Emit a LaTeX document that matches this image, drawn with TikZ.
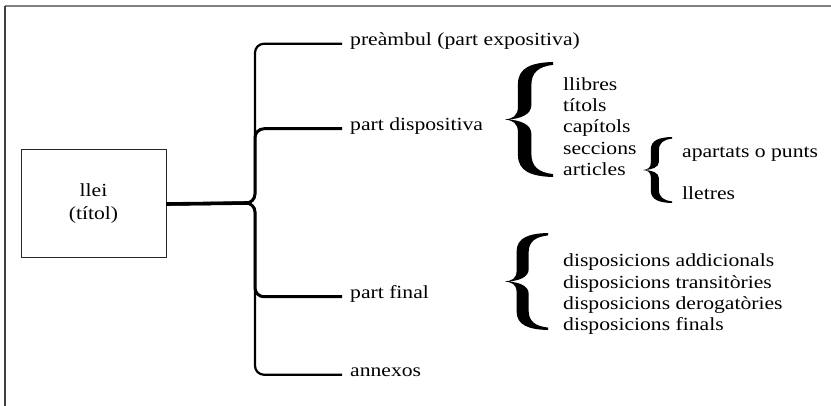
\documentclass[tikz,border=0pt]{standalone}
\usepackage{fontspec}
\setmainfont{Liberation Serif}[FakeStretch=1.17]
\tikzset{
  % calligraphic curly brace, tip at the origin, arms reaching x=1, y=+-1
  curly/.pic={
    \fill[black]
      (1,1) .. controls (0.55,0.99) and (0.27,0.9) .. (0.27,0.62)
      -- (0.27,0.22)
      .. controls (0.27,0.06) and (0.15,0.01) .. (0,0)
      .. controls (0.15,-0.01) and (0.27,-0.06) .. (0.27,-0.22)
      -- (0.27,-0.62)
      .. controls (0.27,-0.9) and (0.55,-0.99) .. (1,-1)
      -- (1,-0.95)
      .. controls (0.7,-0.92) and (0.55,-0.82) .. (0.55,-0.6)
      -- (0.55,-0.25)
      .. controls (0.55,-0.08) and (0.3,-0.01) .. (0.06,0)
      .. controls (0.3,0.01) and (0.55,0.08) .. (0.55,0.25)
      -- (0.55,0.6)
      .. controls (0.55,0.82) and (0.7,0.92) .. (1,0.95)
      -- cycle;
  }
}
\begin{document}
\begin{tikzpicture}[x=1pt,y=-1pt,
  every node/.style={font=\fontsize{18.5}{23}\selectfont, text=black},
  lbl/.style={anchor=base west, inner sep=0pt, text height=0.7em, text depth=0.25em},
  item/.style={anchor=base west, inner sep=0pt},
  branch/.style={draw=black, line width=2.2pt, rounded corners=9pt, shorten >=8pt},
  innerbranch/.style={branch, line width=3pt},
  trunk/.style={draw=black, line width=3.6pt},
  boxstyle/.style={draw=black!85, line width=1pt, minimum width=145pt,
    minimum height=108pt, align=center, inner sep=0pt}
]
\useasboundingbox (0,0) rectangle (831,406);

% page frame: top rule and left rule
\draw[gray, line width=1.4pt] (5,6) -- (831,6);
\draw[black!75, line width=1.4pt] (5,6) -- (5,406);

% root box
\node[boxstyle] (box) at (93.5,204) {llei\\(títol)};

% main parts
\node[lbl] (pre) at (350,46) {preàmbul (part expositiva)};
\node[lbl] (disp) at (350,131) {part dispositiva};
\node[lbl] (fin) at (350,299) {part final};
\node[lbl] (annex) at (350,377) {annexos};

% junction of the tree
\coordinate (j) at (255,203);
\coordinate (t) at (248,203);

\draw[branch] (box.east) -- (j) |- (pre.west);
\draw[branch] (box.east) -- (j) |- (annex.west);
\draw[innerbranch] (box.east) -- (j) |- (disp.west);
\draw[innerbranch] (box.east) -- (j) |- (fin.west);
\draw[trunk] (box.east) -- (t);

% subdivisions of the dispositive part
\pic[xscale=48, yscale=57.5] at (505,119.5) {curly};
\node[item] (l1) at (563,91) {llibres};
\node[item] (l2) at (563,112) {títols};
\node[item] (l3) at (563,133) {capítols};
\node[item] (l4) at (563,155) {seccions};
\node[item] (l5) at (563,176) {articles};

% subdivisions of the articles
\pic[xscale=29, yscale=33] at (643,170) {curly};
\node[item] (a1) at (682,158) {apartats o punts};
\node[item] (a2) at (682,200) {lletres};

% final provisions
\pic[xscale=43, yscale=48.5] at (505,281.5) {curly};
\node[item] (f1) at (563,267) {disposicions addicionals};
\node[item] (f2) at (563,289) {disposicions transitòries};
\node[item] (f3) at (563,310) {disposicions derogatòries};
\node[item] (f4) at (563,331) {disposicions finals};
\end{tikzpicture}
\end{document}
